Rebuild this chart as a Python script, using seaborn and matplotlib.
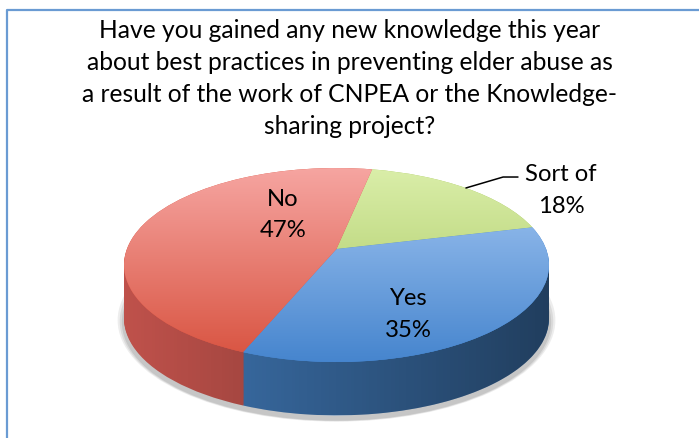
import numpy as np
import matplotlib
matplotlib.use("Agg")
import matplotlib.pyplot as plt
import seaborn as sns
from matplotlib.colors import to_rgb
from matplotlib.patches import Polygon, Ellipse
from matplotlib.lines import Line2D
from matplotlib.transforms import Transform, Affine2D

# ---------------- data ----------------
labels = ["Sort of", "Yes", "No"]
values = [18, 35, 47]
pct_labels = ["18%", "35%", "47%"]
title_lines = [
    "Have you gained any new knowledge this year",
    "about best practices in preventing elder abuse as",
    "a result of the work of CNPEA or the Knowledge-",
    "sharing project?",
]

# ---------------- styles ----------------
top_light = ["#DAEEA9", "#A5C8F3", "#F6A5A1"]
top_dark = ["#A4C45A", "#4685CE", "#D8523F"]
side_colors = ["#8AA64A", "#427CBC", "#C9564F"]

sns.set_theme(style="white")
plt.rcParams['font.family'] = ['Lato', 'DejaVu Sans']


class Perspective(Transform):
    """Projective map keeping the unit circle, moving its centre up (3-D tilt look)."""
    input_dims = output_dims = 2
    is_separable = False
    has_inverse = False

    def __init__(self, c):
        super().__init__()
        self.ch = 1.0 / np.sqrt(1 - c * c)
        self.sh = c * self.ch

    def transform_non_affine(self, values):
        v = np.asarray(values, dtype=float)
        x, y = v[:, 0], v[:, 1]
        d = y * self.sh + self.ch
        return np.column_stack([x / d, (y * self.ch + self.sh) / d])


W, H = 699, 439
fig = plt.figure(figsize=(W / 100, H / 100), dpi=100)
fig.patch.set_facecolor('white')

# pie geometry in pixels
cx, cy = 336.5, 266.0
a, b = 212.5, 97.0
depth = 0.55
xl = (-1.3, 1.3)
yl = (-1.9, 1.3)
left = cx + xl[0] * a
width = (xl[1] - xl[0]) * a
top = cy - yl[1] * b
height = (yl[1] - yl[0]) * b
ax = fig.add_axes([left / W, 1 - (top + height) / H, width / W, height / H])
ax.set_facecolor('none')

start = 78.6
persp = Perspective(0.165)

# shadow
for k, al in enumerate([0.10, 0.12, 0.15]):
    e = Ellipse((0.0, -depth - 0.02 - 0.01 * k), 2.0 + 0.02 * (3 - k), 2.0 + 0.03 * (3 - k),
                facecolor='#555555', alpha=al, edgecolor='none', zorder=0.5)
    ax.add_patch(e)

# side walls (stacked pies)
n = 56
for i in range(n, 0, -1):
    ws, _ = ax.pie(values, startangle=start, counterclock=False, colors=side_colors,
                   radius=1, wedgeprops=dict(linewidth=0, zorder=1))
    T = persp + Affine2D().translate(0, -depth * i / n) + ax.transData
    for w in ws:
        w.set_transform(T)

# side shading overlay (horizontal darkening)
t1 = np.linspace(np.pi, 2 * np.pi, 200)
pts = np.vstack([np.c_[np.cos(t1), np.sin(t1)],
                 np.c_[np.cos(t1[::-1]), np.sin(t1[::-1]) - depth]])
side_poly = Polygon(pts, closed=True, transform=ax.transData)
ramp = np.zeros((1, 256, 4))
xs = np.linspace(0, 1, 256)
ramp[0, :, 3] = 0.05 + 0.45 * xs
im = ax.imshow(ramp, extent=(-1, 1, -1 - depth, 0), aspect='auto',
               interpolation='bilinear', zorder=2)
im.set_clip_path(side_poly)

# top face
wedges, _ = ax.pie(values, startangle=start, counterclock=False,
                   colors=top_dark, radius=1,
                   wedgeprops=dict(linewidth=0, zorder=3))
for w, c1, c2 in zip(wedges, top_light, top_dark):
    w.set_transform(persp + ax.transData)
    r1, r2 = np.array(to_rgb(c1)), np.array(to_rgb(c2))
    f = np.linspace(0, 1, 256)[:, None]
    grad = (r1[None, :] * (1 - f) + r2[None, :] * f)[:, None, :]
    gi = ax.imshow(grad, extent=(-1, 1, -1, 1), aspect='auto', origin='upper',
                   interpolation='bilinear', zorder=4)
    gi.set_clip_path(w)

# labels
lab_fs = 17.2
lab_pos = {
    "Sort of": (1.056, 0.876, 0.546),
    "Yes": (0.336, -0.402, -0.732),
    "No": (-0.252, 0.619, 0.299),
}
for lab, pct in zip(labels, pct_labels):
    x, y1, y2 = lab_pos[lab]
    ax.text(x, y1, lab, ha='center', va='baseline', fontsize=lab_fs, color='black', zorder=6)
    ax.text(x, y2, pct, ha='center', va='baseline', fontsize=lab_fs, color='black', zorder=6)

# leader line for "Sort of"
ax.plot([0.609, 0.784, 0.854], [0.794, 0.907, 0.907], color='black', lw=1.1, zorder=6)

ax.set_aspect('auto')
ax.set_xlim(*xl)
ax.set_ylim(*yl)
ax.axis('off')

# title
baselines = [37.7, 70.0, 102.0, 134.0]
for line, by in zip(title_lines, baselines):
    fig.text(350 / W, 1 - by / H, line, ha='center', va='baseline',
             fontsize=17.7, color='black')

# frame
fig.add_artist(Line2D([6.5 / W, 6.5 / W, 1.0], [0.0, 1 - 10.5 / H, 1 - 10.5 / H],
                      transform=fig.transFigure, color='#6A9BD3', lw=1.6))

fig.savefig('out.png', dpi=100, facecolor='white')
